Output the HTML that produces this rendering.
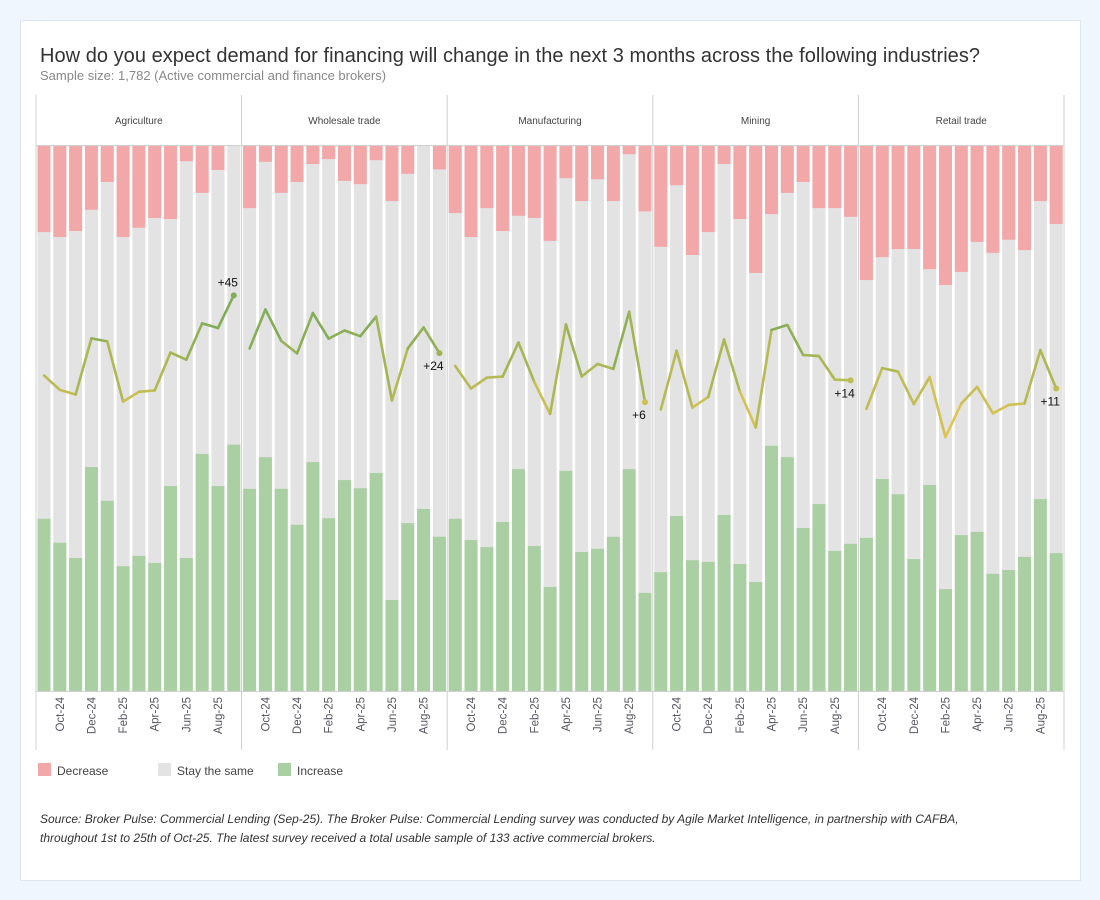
<!DOCTYPE html>
<html><head><meta charset="utf-8"><style>
body{margin:0;background:#f0f6fd;font-family:"Liberation Sans",sans-serif}
#card{position:absolute;left:20px;top:20px;width:1059px;height:859px;background:#fff;border:1px solid #dde5ee}
svg{position:absolute;left:0;top:0}
</style></head><body>
<div id="card"></div>
<svg id="chart" width="1100" height="900"></svg>
<script>
const industries = ["Agriculture","Wholesale trade","Manufacturing","Mining","Retail trade"];
const months = ["Sep-24","Oct-24","Nov-24","Dec-24","Jan-25","Feb-25","Mar-25","Apr-25","May-25","Jun-25","Jul-25","Aug-25","Sep-25"];
const increaseAgriculture = [31.6,27.2,24.4,41.1,34.9,22.9,24.8,23.5,37.6,24.4,43.5,37.6,45.2];
const decreaseAgriculture = [15.8,16.7,15.6,11.7,6.6,16.7,15.0,13.2,13.4,2.8,8.6,4.4,0];
const increaseWholesale = [37.1,42.9,37.1,30.5,42.0,31.7,38.7,37.2,40.0,16.7,30.8,33.4,28.3];
const decreaseWholesale = [11.4,2.9,8.6,6.6,3.3,2.4,6.4,7.0,2.6,10.1,5.1,0,4.3];
const increaseManufacturing = [31.6,27.7,26.4,31.0,40.7,26.6,19.1,40.4,25.5,26.1,28.3,40.7,18.0];
const decreaseManufacturing = [12.3,16.7,11.4,15.6,12.8,13.2,17.4,5.9,10.1,6.1,10.1,1.5,12.0];
const increaseMining = [21.8,32.1,24.0,23.7,32.3,23.3,20.0,45.0,42.9,29.9,34.3,25.7,27.0];
const decreaseMining = [18.5,7.2,20.0,15.8,3.3,13.4,23.3,12.5,8.6,6.6,11.4,11.4,13.0];
const increaseRetail = [28.1,38.9,36.1,24.2,37.8,18.7,28.6,29.2,21.5,22.2,24.6,35.2,25.3];
const decreaseRetail = [24.6,20.4,18.9,18.9,22.6,25.5,23.1,17.6,19.6,17.2,19.1,10.1,14.3];
const increaseSeries = [increaseAgriculture,increaseWholesale,increaseManufacturing,increaseMining,increaseRetail];
const decreaseSeries = [decreaseAgriculture,decreaseWholesale,decreaseManufacturing,decreaseMining,decreaseRetail];

const NS="http://www.w3.org/2000/svg";
const svg=document.getElementById('chart');
function mk(tag,attrs,parent){const e=document.createElementNS(NS,tag);for(const k in attrs)e.setAttribute(k,attrs[k]);(parent||svg).appendChild(e);return e;}
const X0=36, PW=205.6, TOP=146, BOT=691, H=BOT-TOP, MID=(TOP+BOT)/2;
const yPct=v=>BOT-v/100*H;
const yNet=v=>MID-v/100*H/2;
const step=PW/13, bw=13;
const bx=(p,i)=>X0+p*PW+i*step+1.5;
function lineColor(n){const t=Math.max(0,Math.min(1,(n+5)/40));
  const a=[236,200,80],b=[128,172,86];
  return `rgb(${a.map((c,k)=>Math.round(c+(b[k]-c)*t)).join(',')})`;}

let t=mk('text',{x:40,y:62,'font-size':20,fill:'#333',textLength:940});t.textContent="How do you expect demand for financing will change in the next 3 months across the following industries?";

t=mk('text',{x:40,y:80,'font-size':13,fill:'#888'});t.textContent="Sample size: 1,782 (Active commercial and finance brokers)";


industries.forEach((name,p)=>{
  const g=mk('g',{});
  
  
  const ht=mk('text',{x:X0+p*PW+PW/2,y:124,'font-size':10,fill:'#444','text-anchor':'middle'},g);ht.textContent=name;
  
  const inc=increaseSeries[p], dec=decreaseSeries[p];
  months.forEach((m,i)=>{
    const x=bx(p,i);
    const gr=mk('rect',{x:x,y:TOP,width:bw,height:H,fill:'#e3e3e3'},g);
    
    const r=mk('rect',{x:x,y:TOP,width:bw,height:yPct(100-dec[i])-TOP,fill:'#f2a7a8'},g);
    
    const gn=mk('rect',{x:x,y:yPct(inc[i]),width:bw,height:BOT-yPct(inc[i]),fill:'#a9cfa3'},g);
    
    if(i%2===1){
      const cx=x+bw/2;
      const tl=mk('text',{x:0,y:0,'font-size':11.5,fill:'#5a5563','text-anchor':'end',transform:`translate(${cx+4},697) rotate(-90)`},g);
      tl.textContent=m;
    }
  });
  const net=inc.map((v,i)=>v-dec[i]);
  for(let i=0;i<net.length-1;i++){
    const seg=mk('line',{x1:bx(p,i)+bw/2,y1:yNet(net[i]),x2:bx(p,i+1)+bw/2,y2:yNet(net[i+1]),stroke:lineColor((net[i]+net[i+1])/2),'stroke-width':2.6,'stroke-linecap':'round'},g);
    
  }
  const L=net.length-1, lx=bx(p,L)+bw/2, ly=yNet(net[L]);
  const dot=mk('circle',{cx:lx,cy:ly,r:3,fill:lineColor(net[L])},g);
  
  const lab=mk('text',{x:lx-6,y:p===0?ly-9:ly+17,'font-size':12,fill:'#111','text-anchor':'middle'},g);
  lab.textContent='+'+Math.round(net[L]);
});
for(let p=0;p<=5;p++){const l=mk('line',{x1:X0+p*PW,y1:95,x2:X0+p*PW,y2:750,stroke:'#d0d0d0','stroke-width':1});
  }
const hl=mk('line',{x1:X0,y1:145.5,x2:X0+5*PW,y2:145.5,stroke:'#d0d0d0'});
const bl=mk('line',{x1:X0,y1:691.5,x2:X0+5*PW,y2:691.5,stroke:'#d0d0d0'});

[["Decrease","#f2a7a8",38],["Stay the same","#e3e3e3",158],["Increase","#a9cfa3",278]].forEach(([n,c,x])=>{
  const g=mk('g',{});
  mk('rect',{x:x,y:763,width:13,height:13,fill:c},g);
  const tx=mk('text',{x:x+19,y:775,'font-size':12,fill:'#444'},g);tx.textContent=n;
});
const src=[["Source: Broker Pulse: Commercial Lending (Sep-25). The Broker Pulse: Commercial Lending survey was conducted by Agile Market Intelligence, in partnership with CAFBA,",823],
["throughout 1st to 25th of Oct-25. The latest survey received a total usable sample of  133 active commercial brokers.",842]];
src.forEach(([s,y])=>{const tx=mk('text',{x:40,y:y,'font-size':12,'font-style':'italic',fill:'#333'});tx.textContent=s;
  });
</script>
</body></html>
